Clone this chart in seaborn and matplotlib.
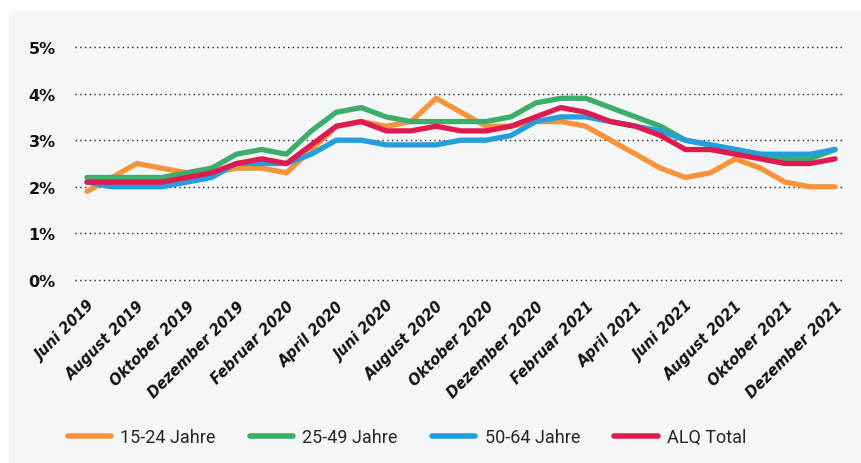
import numpy as np
import pandas as pd
import matplotlib
matplotlib.use("Agg")
import matplotlib.pyplot as plt
from matplotlib.patches import Rectangle
import seaborn as sns

# Monthly data, Juni 2019 .. Dezember 2021 (values in %)
months = ["Juni 2019", "Juli 2019", "August 2019", "September 2019", "Oktober 2019",
          "November 2019", "Dezember 2019", "Januar 2020", "Februar 2020", "März 2020",
          "April 2020", "Mai 2020", "Juni 2020", "Juli 2020", "August 2020",
          "September 2020", "Oktober 2020", "November 2020", "Dezember 2020",
          "Januar 2021", "Februar 2021", "März 2021", "April 2021", "Mai 2021",
          "Juni 2021", "Juli 2021", "August 2021", "September 2021", "Oktober 2021",
          "November 2021", "Dezember 2021"]

age_15_24 = [1.9, 2.2, 2.5, 2.4, 2.3, 2.3, 2.4, 2.4, 2.3, 2.8, 3.3, 3.4, 3.3, 3.4, 3.9, 3.6,
             3.3, 3.3, 3.4, 3.4, 3.3, 3.0, 2.7, 2.4, 2.2, 2.3, 2.6, 2.4, 2.1, 2.0, 2.0]
age_25_49 = [2.2, 2.2, 2.2, 2.2, 2.3, 2.4, 2.7, 2.8, 2.7, 3.2, 3.6, 3.7, 3.5, 3.4, 3.4, 3.4,
             3.4, 3.5, 3.8, 3.9, 3.9, 3.7, 3.5, 3.3, 3.0, 2.9, 2.8, 2.7, 2.6, 2.6, 2.8]
age_50_64 = [2.1, 2.0, 2.0, 2.0, 2.1, 2.2, 2.5, 2.5, 2.5, 2.7, 3.0, 3.0, 2.9, 2.9, 2.9, 3.0,
             3.0, 3.1, 3.4, 3.5, 3.5, 3.4, 3.3, 3.2, 3.0, 2.9, 2.8, 2.7, 2.7, 2.7, 2.8]
alq_total = [2.1, 2.1, 2.1, 2.1, 2.2, 2.3, 2.5, 2.6, 2.5, 2.9, 3.3, 3.4, 3.2, 3.2, 3.3, 3.2,
             3.2, 3.3, 3.5, 3.7, 3.6, 3.4, 3.3, 3.1, 2.8, 2.8, 2.7, 2.6, 2.5, 2.5, 2.6]

series_names = ["15-24 Jahre", "25-49 Jahre", "50-64 Jahre", "ALQ Total"]
colors = ["#f7943a", "#3cae6a", "#259fdb", "#e0194f"]
y_ticks = [0, 1, 2, 3, 4, 5]

sns.set_theme(style="white")
plt.rcParams["font.family"] = ["DejaVu Sans"]

fig = plt.figure(figsize=(8.62, 4.64), dpi=100, facecolor="white")
# light grey panel behind everything
fig.patches.append(Rectangle((9 / 862, 0), 1, 1 - 12 / 464, transform=fig.transFigure,
                             facecolor="#f4f6f8", edgecolor="none", zorder=-10))

ax = fig.add_axes([75 / 862, 1 - 281 / 464, (843 - 75) / 862, (281 - 48) / 464])
ax.set_facecolor("none")
ax.set_zorder(5)

x = np.arange(len(months))
for name, vals, col in zip(series_names, [age_15_24, age_25_49, age_50_64, alq_total], colors):
    sns.lineplot(x=x, y=vals, ax=ax, color=col, linewidth=3.8, label=name,
                 solid_capstyle="round", solid_joinstyle="round")

ax.set_xlim(-0.48, 30.32)
ax.set_ylim(0, 5)
ax.set_yticks(y_ticks)
ax.set_yticklabels([f"{v}%" for v in y_ticks], fontsize=11.5, fontweight="bold", color="#111111")
ax.tick_params(axis="y", length=0, pad=14)
ax.set_xticks(x[::2])
ax.set_xticklabels(months[::2], rotation=45, ha="right", rotation_mode="anchor",
                   fontsize=10.5, fontweight="bold", fontstyle="italic", color="#111111")
ax.tick_params(axis="x", length=0, pad=13)

for v in y_ticks:
    ax.axhline(v, color="#222222", linewidth=1.0, linestyle=(0, (1, 2.4)), zorder=0,
               clip_on=False)
for s in ax.spines.values():
    s.set_visible(False)
ax.set_xlabel("")
ax.set_ylabel("")

handles, labels = ax.get_legend_handles_labels()
ax.get_legend().remove()
leg = fig.legend(handles, labels, loc="center", bbox_to_anchor=(407 / 862, 1 - 438 / 464),
                 ncol=4, frameon=False, handlelength=2.4, handletextpad=0.5,
                 columnspacing=1.9, prop={"family": "Roboto", "size": 13})
leg.set_zorder(6)
for line in leg.get_lines():
    line.set_linewidth(4)
    line.set_solid_capstyle("round")

fig.savefig("out.png", dpi=100, facecolor=fig.get_facecolor())
